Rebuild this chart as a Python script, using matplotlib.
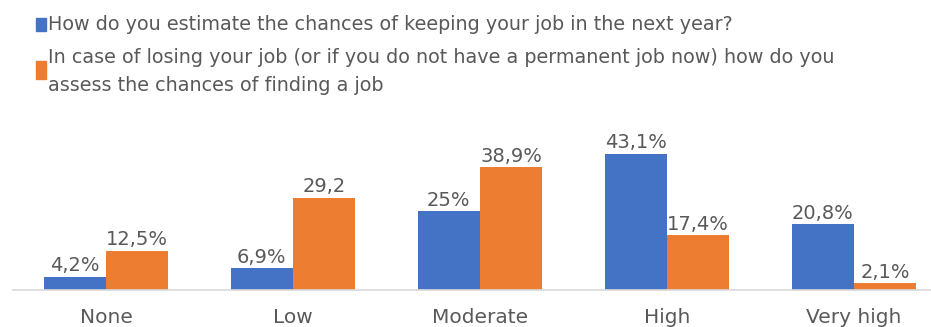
import matplotlib.pyplot as plt
from matplotlib.patches import Rectangle
import numpy as np

categories = ['None', 'Low', 'Moderate', 'High', 'Very high']
keep_job = [4.2, 6.9, 25.0, 43.1, 20.8]
find_job = [12.5, 29.2, 38.9, 17.4, 2.1]
keep_labels = ['4,2%', '6,9%', '25%', '43,1%', '20,8%']
find_labels = ['12,5%', '29,2', '38,9%', '17,4%', '2,1%']
series_names = [
    'How do you estimate the chances of keeping your job in the next year?',
    'In case of losing your job (or if you do not have a permanent job now) how do you\nassess the chances of finding a job',
]

BLUE = '#4472C4'
ORANGE = '#ED7D31'
TEXT = '#595959'

plt.rcParams['font.family'] = ['DejaVu Sans']

W, H = 931, 327
fig = plt.figure(figsize=(W / 100, H / 100), dpi=100)

# axes in pixel terms: baseline at y=290, group pitch 187 px
ax_top, ax_bottom = 110, 290
ax = fig.add_axes([12.5 / W, (H - ax_bottom) / H, 935 / W, (ax_bottom - ax_top) / H])
ax.set_xlim(-0.5, 4.5)
ax.set_ylim(0, (ax_bottom - ax_top) / 3.16)

x = np.arange(len(categories))
w = 0.333
b1 = ax.bar(x - w / 2, keep_job, w, color=BLUE)
b2 = ax.bar(x + w / 2, find_job, w, color=ORANGE)

for bars, labels in ((b1, keep_labels), (b2, find_labels)):
    for bar, lab in zip(bars, labels):
        ax.annotate(lab, (bar.get_x() + bar.get_width() / 2, bar.get_height()),
                    xytext=(0, 1), textcoords='offset points',
                    ha='center', va='bottom', fontsize=14, color=TEXT)

for s in ('top', 'right', 'left'):
    ax.spines[s].set_visible(False)
ax.spines['bottom'].set_color('#D9D9D9')
ax.spines['bottom'].set_linewidth(1.2)
ax.set_yticks([])
ax.set_xticks(x)
ax.set_xticklabels(categories, fontsize=14.5, color=TEXT)
ax.tick_params(axis='x', length=0, pad=13)

# legend block at the top
fig.patches.append(Rectangle((36 / W, 1 - 31 / H), 10 / W, 13 / H,
                             transform=fig.transFigure, color=BLUE))
fig.patches.append(Rectangle((36 / W, 1 - 79 / H), 10 / W, 18 / H,
                             transform=fig.transFigure, color=ORANGE))
fig.text(48 / W, 1 - 24 / H, series_names[0], fontsize=13.8, color=TEXT, va='center')
fig.text(48 / W, 1 - 71.5 / H, series_names[1], fontsize=13.8, color=TEXT,
         va='center', linespacing=1.6)

fig.savefig('out.png', dpi=100)
